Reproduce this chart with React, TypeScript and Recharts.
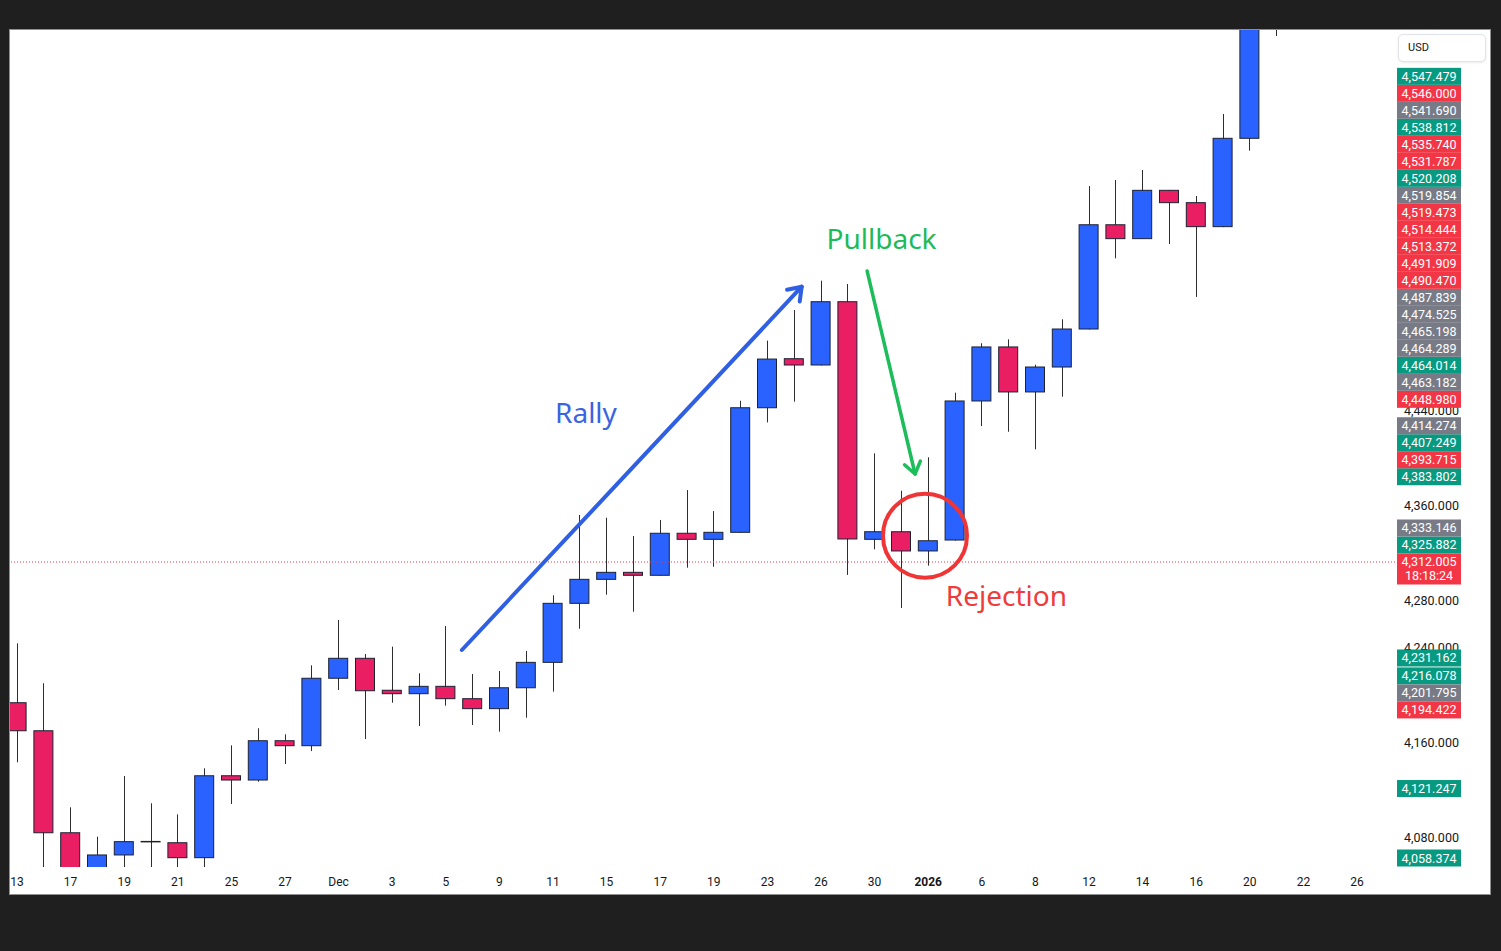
import React from 'react';
import { ComposedChart, XAxis, YAxis, Bar, ReferenceLine, ReferenceDot } from 'recharts';

// daily XAU/USD candles, Nov 13 2025 -> Jan 21 2026 (last three dates are empty future slots)
const dates = [
  '2025-11-13', '2025-11-14', '2025-11-17', '2025-11-18', '2025-11-19', '2025-11-20', '2025-11-21',
  '2025-11-24', '2025-11-25', '2025-11-26', '2025-11-27', '2025-11-28', '2025-12-01', '2025-12-02',
  '2025-12-03', '2025-12-04', '2025-12-05', '2025-12-08', '2025-12-09', '2025-12-10', '2025-12-11',
  '2025-12-12', '2025-12-15', '2025-12-16', '2025-12-17', '2025-12-18', '2025-12-19', '2025-12-22',
  '2025-12-23', '2025-12-24', '2025-12-26', '2025-12-29', '2025-12-30', '2025-12-31', '2026-01-02',
  '2026-01-05', '2026-01-06', '2026-01-07', '2026-01-08', '2026-01-09', '2026-01-12', '2026-01-13',
  '2026-01-14', '2026-01-15', '2026-01-16', '2026-01-19', '2026-01-20', '2026-01-21', '2026-01-22',
  '2026-01-23', '2026-01-26',
];

const opens = [
  4193.5, 4169.9, 4084.0, 4048.0, 4065.3, 4076.5, 4075.6, 4063.0, 4132.0, 4128.4, 4161.5, 4157.3,
  4214.1, 4230.9, 4204.0, 4201.1, 4207.3, 4196.9, 4188.5, 4206.1, 4227.5, 4277.2, 4297.4, 4303.3,
  4300.8, 4336.2, 4331.1, 4337.0, 4441.9, 4483.2, 4477.9, 4531.2, 4331.1, 4337.5, 4321.3, 4330.5,
  4447.6, 4493.1, 4455.2, 4476.2, 4508.2, 4596.0, 4584.3, 4625.0, 4614.6, 4594.4, 4668.8, 4775.0,
];
const highs = [
  4243.5, 4209.9, 4105.4, 4080.7, 4131.8, 4108.8, 4099.5, 4138.3, 4157.6, 4172.0, 4166.9, 4225.0,
  4263.2, 4234.5, 4240.7, 4218.3, 4258.1, 4217.7, 4220.2, 4237.1, 4284.0, 4351.6, 4349.3, 4333.9,
  4347.4, 4372.6, 4354.9, 4447.8, 4498.4, 4524.2, 4548.9, 4546.1, 4403.5, 4372.0, 4400.2, 4454.6,
  4496.2, 4499.5, 4478.1, 4516.4, 4628.6, 4633.7, 4642.1, 4625.3, 4620.2, 4689.3, 4790.0, 4888.0,
];
const lows = [
  4143.3, 4048.0, 4030.0, 4035.0, 4052.0, 4050.0, 4050.0, 4048.0, 4108.2, 4127.0, 4141.9, 4152.8,
  4204.2, 4162.9, 4193.5, 4173.9, 4191.0, 4174.7, 4169.1, 4180.9, 4202.8, 4255.8, 4284.5, 4270.1,
  4300.5, 4307.2, 4308.0, 4336.5, 4429.6, 4447.0, 4477.5, 4301.1, 4322.7, 4273.3, 4308.9, 4330.0,
  4426.5, 4421.7, 4406.9, 4451.2, 4507.8, 4567.7, 4584.0, 4579.8, 4535.2, 4594.0, 4658.4, 4754.9,
];
const closes = [
  4169.9, 4084.0, 4045.0, 4065.3, 4076.5, 4076.5, 4063.0, 4132.0, 4128.4, 4161.5, 4157.3, 4214.1,
  4230.9, 4203.6, 4201.1, 4207.3, 4196.9, 4188.5, 4206.1, 4227.5, 4277.2, 4297.4, 4303.3, 4300.8,
  4336.2, 4331.1, 4337.0, 4441.9, 4482.9, 4477.9, 4531.2, 4331.4, 4337.5, 4321.3, 4329.9, 4447.6,
  4493.1, 4455.2, 4476.2, 4508.2, 4596.0, 4584.3, 4625.0, 4614.6, 4594.4, 4668.8, 4770.0, 4840.0,
];

// price scale: only the grid prices that are not hidden under the badges
const gridTicks = [4080, 4160, 4240, 4280, 4360, 4440];
const lastPrice = 4312.005;
const countdown = '18:18:24';
const labelPrices = [
  4547.479, 4546.0, 4541.69, 4538.812, 4535.74, 4531.787, 4520.208, 4519.854, 4519.473, 4514.444,
  4513.372, 4491.909, 4490.47, 4487.839, 4474.525, 4465.198, 4464.289, 4464.014, 4463.182, 4448.98,
  4414.274, 4407.249, 4393.715, 4383.802, 4333.146, 4325.882, 4312.005, 4231.162, 4216.078, 4201.795,
  4194.422, 4121.247, 4058.374,
];
const labelTones = [
  'g', 'r', 'n', 'g', 'r', 'r', 'g', 'n', 'r', 'r',
  'r', 'r', 'r', 'n', 'n', 'n', 'n', 'g', 'n', 'r',
  'n', 'g', 'r', 'g', 'n', 'g', 'r', 'g', 'g', 'n',
  'r', 'g', 'g',
];

// annotations, in (bar index, price)
const rallyArrow = [{ x: 16.6, y: 4237.9 }, { x: 29.28, y: 4543.8 }];
const pullbackArrow = [{ x: 31.72, y: 4557.1 }, { x: 33.51, y: 4386.1 }];
const rejectionRing = { x: 33.88, y: 4334.1 };
const notes = [
  { text: 'Rally', x: 21.23, y: 4436.6, color: '#3a64e0' },
  { text: 'Pullback', x: 32.26, y: 4583.2, color: '#1bbb5b' },
  { text: 'Rejection', x: 36.92, y: 4282.5, color: '#ef3b3b' },
];

const CHART_W = 1480;
const CHART_H = 864;
const AXIS_W = 95;
const X_AXIS_H = 27;
const Y_MIN = 4055.16;
const Y_MAX = 4760;
const X_MIN = -0.261;
const X_MAX = 51.418;
const LABEL_H = 17;
const LAST_H = 31;

const BLUE = '#2962ff';
const RED = '#e91e63';
const BORDER = '#1c2233';
const WICK = '#2e2e2e';
const TONES: Record<string, string> = { g: '#089981', r: '#f23645', n: '#787b86' };
const FONT = 'Roboto, "Liberation Sans", sans-serif';

const candles = opens.map((open, i) => ({
  i,
  open,
  high: highs[i],
  low: lows[i],
  close: closes[i],
}));

const monthNames = ['Jan', 'Feb', 'Mar', 'Apr', 'May', 'Jun', 'Jul', 'Aug', 'Sep', 'Oct', 'Nov', 'Dec'];
function dateLabel(i: number) {
  const [y, m, d] = dates[i].split('-');
  if (i > 0) {
    const [py, pm] = dates[i - 1].split('-');
    if (py !== y) return { text: y, bold: true };
    if (pm !== m) return { text: monthNames[Number(m) - 1], bold: false };
  }
  return { text: String(Number(d)), bold: false };
}
const xTicks = dates.map((_, i) => i).filter((i) => i % 2 === 0);

// badges are pushed away from the last price so they never overlap
const unitsPerPx = (Y_MAX - Y_MIN) / (CHART_H - X_AXIS_H);
const badges = (() => {
  const all = labelPrices.map((p, k) => ({ p, k }));
  const out: { at: number; price: number; tone: string; last: boolean }[] = [];
  const above = all.filter((o) => o.p >= lastPrice).sort((a, b) => a.p - b.p);
  let prev = -Infinity;
  for (const { p, k } of above) {
    const at = Math.max(p, prev + LABEL_H * unitsPerPx);
    prev = at;
    out.push({ at, price: p, tone: labelTones[k], last: p === lastPrice });
  }
  const below = all.filter((o) => o.p < lastPrice).sort((a, b) => b.p - a.p);
  let next = lastPrice - (LAST_H - LABEL_H) * unitsPerPx;
  const floor = Y_MIN + 9 * unitsPerPx;
  for (const { p, k } of below) {
    const at = Math.max(Math.min(p, next - LABEL_H * unitsPerPx), floor);
    next = at;
    out.push({ at, price: p, tone: labelTones[k], last: false });
  }
  return out;
})();
const badgeByPos = new Map(badges.map((b) => [b.at, b]));
const yTicks = [...gridTicks, ...badges.map((b) => b.at)];

const fmt = (v: number) =>
  v.toLocaleString('en-US', { minimumFractionDigits: 3, maximumFractionDigits: 3 });

function Candle(props: any) {
  const { x, y, width, height, payload } = props;
  if (!payload || !height) return null;
  const { open, close, high, low } = payload;
  const k = height / (high - low);
  const py = (v: number) => y + (high - v) * k;
  const cx = Math.round(x + width / 2) + 0.5;
  const top = py(Math.max(open, close));
  const bottom = py(Math.min(open, close));
  return (
    <g>
      <line x1={cx} x2={cx} y1={py(high)} y2={py(low)} stroke={WICK} strokeWidth={1} />
      {open === close ? (
        <line x1={x} x2={x + width} y1={top} y2={top} stroke="#222" strokeWidth={1.5} />
      ) : (
        <rect
          x={x + 0.5}
          y={top}
          width={width - 1}
          height={Math.max(bottom - top, 2)}
          fill={close > open ? BLUE : RED}
          stroke={BORDER}
          strokeWidth={1}
        />
      )}
    </g>
  );
}

function DateTick(props: any) {
  const { x, y, payload } = props;
  const lbl = dateLabel(payload.value);
  return (
    <text x={x} y={y} dy={19} textAnchor="middle" fontSize={12} fontFamily={FONT}
      fontWeight={lbl.bold ? 700 : 400} fill="#131722">
      {lbl.text}
    </text>
  );
}

function PriceTick(props: any) {
  const { x, y, payload } = props;
  const b = badgeByPos.get(payload.value);
  if (!b) {
    return (
      <text x={x + 9} y={y} dy={4.5} fontSize={12.5} fontFamily={FONT} fill="#131722">
        {fmt(payload.value)}
      </text>
    );
  }
  return (
    <g>
      <rect x={x + 2} y={y - 8.5} width={64} height={b.last ? LAST_H : LABEL_H} fill={TONES[b.tone]} />
      <text x={x + 34} y={y} dy={4.5} textAnchor="middle" fontSize={12.5} fontFamily={FONT} fill="#fff">
        {fmt(b.price)}
      </text>
      {b.last && (
        <text x={x + 34} y={y + 14} dy={4.5} textAnchor="middle" fontSize={12.5} fontFamily={FONT} fill="#fff">
          {countdown}
        </text>
      )}
    </g>
  );
}

const arrow = (color: string, w: number, head: number) => (p: any) => {
  const { x1, y1, x2, y2 } = p;
  const a = Math.atan2(y2 - y1, x2 - x1);
  const wing = (s: number) => `${x2 - head * Math.cos(a + s * 0.62)},${y2 - head * Math.sin(a + s * 0.62)}`;
  return (
    <g stroke={color} strokeWidth={w} strokeLinecap="round" strokeLinejoin="round" fill="none">
      <line x1={x1} y1={y1} x2={x2} y2={y2} />
      <polyline points={`${wing(1)} ${x2},${y2} ${wing(-1)}`} />
    </g>
  );
};

const noteShape = (text: string, color: string) => (p: any) => (
  <text x={p.cx} y={p.cy} dy={9} textAnchor="middle" fontSize={28} fontFamily='"Noto Sans", sans-serif'
    fill={color}>
    {text}
  </text>
);

export default function App() {
  return (
    <div style={{ position: 'absolute', left: 0, top: 0, width: 1501, height: 951, background: '#1f1f1f', overflow: 'hidden' }}>
      <div style={{ position: 'absolute', left: 10, top: 30, width: CHART_W, height: CHART_H, background: '#fff', outline: '1px solid #8f8f8f', overflow: 'hidden' }}>
        <ComposedChart width={CHART_W} height={CHART_H} data={candles} margin={{ top: 0, right: 0, bottom: 0, left: 0 }}>
          <XAxis
            type="number"
            dataKey="i"
            domain={[X_MIN, X_MAX]}
            allowDataOverflow
            ticks={xTicks}
            interval={0}
            height={X_AXIS_H}
            axisLine={false}
            tickLine={false}
            tickSize={0}
            tickMargin={0}
            tick={<DateTick />}
          />
          <YAxis
            orientation="right"
            domain={[Y_MIN, Y_MAX]}
            allowDataOverflow
            ticks={yTicks}
            interval={0}
            width={AXIS_W}
            axisLine={false}
            tickLine={false}
            tickSize={0}
            tickMargin={0}
            tick={<PriceTick />}
          />
          <ReferenceLine y={lastPrice} stroke="#f23645" strokeDasharray="1 2" strokeWidth={1} />
          <Bar
            dataKey={(d: any) => [d.low, d.high]}
            barSize={20}
            shape={<Candle />}
            isAnimationActive={false}
          />
          <ReferenceLine segment={rallyArrow} shape={arrow('#2f5fe3', 4, 15)} />
          <ReferenceLine segment={pullbackArrow} shape={arrow('#1cbd5a', 3.5, 14)} />
          <ReferenceDot x={rejectionRing.x} y={rejectionRing.y} r={42} fill="none" stroke="#ef3535" strokeWidth={4} />
          {notes.map((n) => (
            <ReferenceDot key={n.text} x={n.x} y={n.y} r={1} shape={noteShape(n.text, n.color)} />
          ))}
        </ComposedChart>
        <div style={{
          position: 'absolute', left: 1388, top: 4, width: 88, height: 28, boxSizing: 'border-box',
          border: '1px solid #e0e3eb', borderRadius: 5, background: '#fff',
          boxShadow: '0 1px 3px rgba(0,0,0,0.08)', fontFamily: FONT, fontSize: 11, color: '#131722',
          lineHeight: '26px', paddingLeft: 9,
        }}>
          USD
        </div>
      </div>
    </div>
  );
}
